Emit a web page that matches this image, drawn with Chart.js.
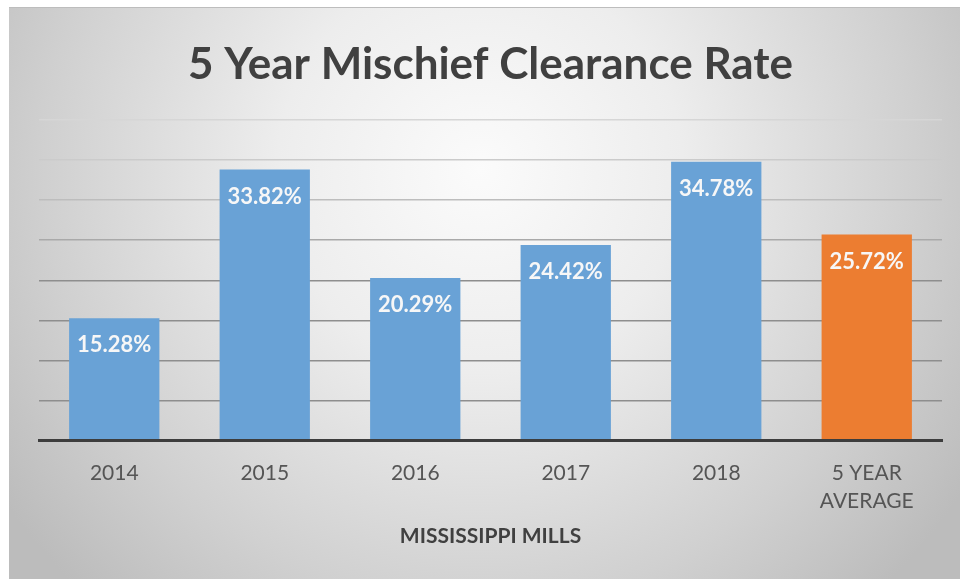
<!DOCTYPE html>
<html>
<head>
<meta charset="utf-8">
<title>5 Year Mischief Clearance Rate</title>
<script src="https://cdn.jsdelivr.net/npm/chart.js@4"></script>
<style>
	body { margin: 0; background: #fff; }
	.chart-box { position: relative; width: 960px; height: 579px; }
</style>
</head>
<body>
<div class="chart-box"><canvas id="chart"></canvas></div>
<script>
'use strict'

const chartTitle = '5 Year Mischief Clearance Rate'
const axisTitle = 'MISSISSIPPI MILLS'
const categories = ['2014', '2015', '2016', '2017', '2018', ['5 YEAR', 'AVERAGE']]
const rates = [15.28, 33.82, 20.29, 24.42, 34.78, 25.72]
const yMin = 0
const yMax = 40
const yStep = 5

const BLUE = '#69a2d6'
const ORANGE = '#ec7d31'
const barColors = categories.map((c, i) => (i === categories.length - 1 ? ORANGE : BLUE))

// grey card behind the chart, lighter in the middle
const bgPlugin = {
	id: 'bgCard',
	beforeDraw(chart) {
		const ctx = chart.ctx
		const w = chart.width
		const h = chart.height
		ctx.save()
		ctx.fillStyle = '#fff'
		ctx.fillRect(0, 0, w, h)
		const grad = ctx.createRadialGradient(480, 170, 0, 480, 170, 580)
		grad.addColorStop(0, '#fbfbfb')
		grad.addColorStop(0.35, '#ededed')
		grad.addColorStop(0.75, '#d0d0d0')
		grad.addColorStop(1, '#bcbcbc')
		ctx.fillStyle = grad
		ctx.fillRect(9, 7, w - 9, h - 7)
		ctx.fillStyle = '#bdbdbd'
		ctx.fillRect(9, 7, w - 9, 1)
		ctx.restore()
	},
}

// value labels inside the top of every bar
const valueLabels = {
	id: 'valueLabels',
	afterDatasetsDraw(chart) {
		const ctx = chart.ctx
		const meta = chart.getDatasetMeta(0)
		ctx.save()
		ctx.font = 'bold 22px Lato'
		ctx.fillStyle = '#f7f7f7'
		ctx.textAlign = 'center'
		ctx.textBaseline = 'middle'
		meta.data.forEach((bar, i) => {
			ctx.fillText(rates[i].toFixed(2) + '%', bar.x, bar.y + 27)
		})
		ctx.restore()
	},
}

function gridColor(ctx) {
	const v = ctx.tick ? ctx.tick.value : 0
	if (v >= 40) return '#d6d6d6'
	if (v >= 35) return '#cbcbcb'
	if (v >= 30) return '#bdbdbd'
	if (v >= 25) return '#a9a9a9'
	return '#8e8e8e'
}

function renderChart() {
	const ctx = document.getElementById('chart')

	new Chart(ctx, {
		type: 'bar',
		data: {
			labels: categories,
			datasets: [
				{
					data: rates,
					backgroundColor: barColors,
					borderWidth: 0,
					barPercentage: 0.6,
					categoryPercentage: 1,
				},
			],
		},
		plugins: [bgPlugin, valueLabels],
		options: {
			responsive: true,
			maintainAspectRatio: false,
			animation: false,
			layout: {
				padding: { left: 39, right: 18, top: 0, bottom: 30 },
			},
			plugins: {
				legend: { display: false },
				tooltip: { enabled: false },
				title: {
					display: true,
					text: chartTitle,
					color: '#404040',
					font: { family: 'Lato', size: 44, weight: 'bold' },
					padding: { top: 38, bottom: 29 },
				},
			},
			scales: {
				x: {
					grid: { display: false, drawTicks: false },
					border: { display: true, color: '#3d3d3d', width: 3, z: 1 },
					ticks: {
						color: '#555555',
						font: { family: 'Lato', size: 21, lineHeight: 1.33 },
						padding: 18,
						maxRotation: 0,
					},
					title: {
						display: true,
						text: axisTitle,
						color: '#404040',
						font: { family: 'Lato', size: 21, weight: 'bold' },
						padding: { top: -9, bottom: 0 },
					},
				},
				y: {
					min: yMin,
					max: yMax,
					ticks: { display: false, stepSize: yStep },
					border: { display: false },
					grid: { color: gridColor, lineWidth: 1.5, drawTicks: false },
				},
			},
		},
	})
}

renderChart()
</script>
</body>
</html>
